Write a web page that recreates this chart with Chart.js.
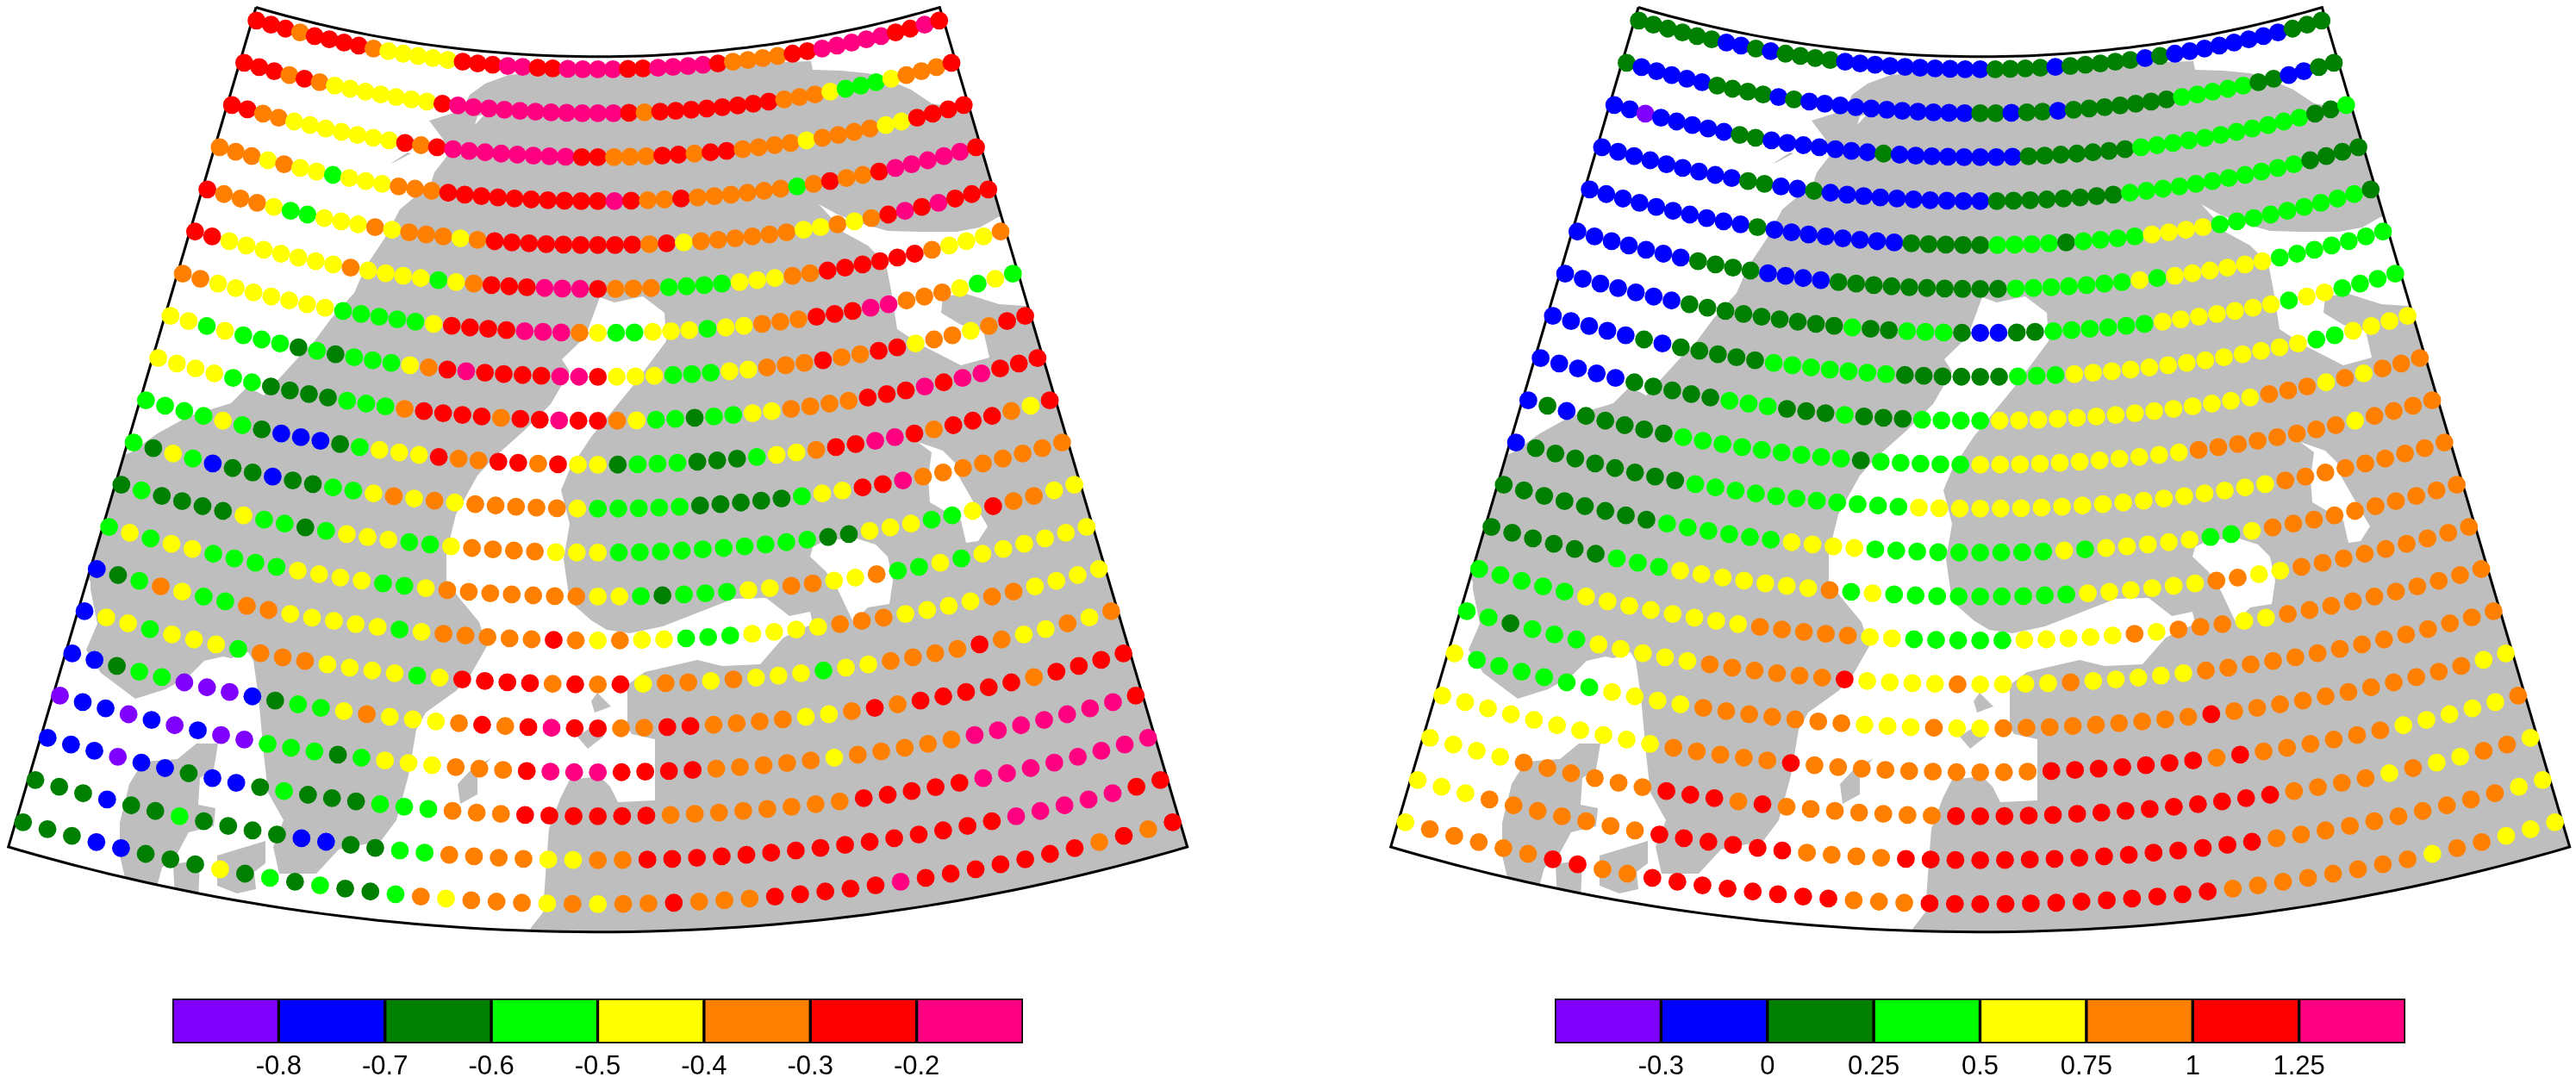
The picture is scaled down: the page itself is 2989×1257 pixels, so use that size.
<!DOCTYPE html>
<html lang="en">
<head>
  <meta charset="UTF-8">
  <title>Station maps</title>
  <script src="https://cdn.jsdelivr.net/npm/chart.js"></script>
  <style>
    body { margin: 0; background: #ffffff; overflow: hidden; }
    canvas { position: absolute; }
  </style>
</head>
<body>
<canvas id="mapLeft" width="1390" height="1090" style="left:0;top:0"></canvas>
<canvas id="mapRight" width="1390" height="1090" style="left:1604px;top:0"></canvas>
<canvas id="barLeft" width="1050" height="107" style="left:170px;top:1150px"></canvas>
<canvas id="barRight" width="1050" height="107" style="left:1774px;top:1150px"></canvas>
<script>
    // colour classes, lowest to highest
    const classKeys = ['P', 'B', 'D', 'G', 'Y', 'O', 'R', 'M'];
    const classColors = ['#8000ff', '#0000ff', '#008000', '#00ff00', '#ffff00', '#ff8000', '#ff0000', '#ff0080'];
    const leftTicks = ['-0.8', '-0.7', '-0.6', '-0.5', '-0.4', '-0.3', '-0.2'];
    const rightTicks = ['-0.3', '0', '0.25', '0.5', '0.75', '1', '1.25'];

    // one string per grid row, one letter per column (west half, east half)
    const leftRows = [
        'RRRORRRROYYYYYRRRMMRRMMM MRRMMMMROOOORRMMMMMRRMR',
        'RRROROYYYYYYYRMMMMMMMMMM MRORRRRRRRROOOYGGGYOOOR',
        'RROOYYYYYYYRORMMMMMMMMRR OOORRORROOOOYOOOOYYRRRR',
        'OOOYOYYGYYYOOORRRRRRRRRR MROOROOOOOOGOROORMMMMMR',
        'ROOOYGGYYYOYOOOYORRRRRRR RRORYOOOOOOYYOYORMRMRRR',
        'RRYYYYYYYOYYYYGYORRRMMMR OOOGGGGYYYOORRRRRROYYYO',
        'OOYYYYYYYGGGGGYRRRRMMMOY GGYYYGYYOOORRRMMOOOYGYG',
        'YYGYGGGDGDGGGYORMRRRRMMR YYYGGGYYOOOROORRYOOYORR',
        'YYYYGGDDDDGGGORRRRORRMRR OYGGDGGYYOOOORRRMRMMRRR',
        'GGGGYGDBBBDGYYYROORRORYY DGGGDDDGYYORRMMRORRROYR',
        'GDYGBDDBDDGGYOYOYOOOOOYG GGGGDDDDDGYYRRMOOOOOOOO',
        'DGDDDDYGGDGYYYGGYOOOOYYY GGGGGGGGGGDDYYYGGYROOYY',
        'GYGYYGGGGYYYYGGYOOOOOOOY YGDGGGYYOOYYOGGYGYYYYYY',
        'BDGOYGGOOYYYYYGYOOOOOROY OYYGGGYYYYOOOYYYYOOYYYY',
        'BYYGYYYGOOOYYYYGYRRRRORO RYOOYOYYYGYYOOOOROYYOYO',
        'BBDGGPPPBDGGYOYYYORORMRR OORROOOOYYORORRRRRORRRR',
        'PBBPBPBPPGGGDGYYYOOORMMM RRRROOOOOYOOOOOMMMMMMMR',
        'BBBPBBDBBDGDDDGGGOOORRRR RROOOOOOOORRRRRMMMMMMMM',
        'DDDBDDGDDDDBBDDGGOOOOYYO ORRRRRRRRRRRRRRRMMMMMRR',
        'DDDBBDDDYDGDGDDGOYOOOYOY OOROOORRRRRMRRRRRRROROR'
    ];
    const rightRows = [
        'DDDDDDBBDBDDDDBBBBBBBBBB DDDDBDDDDDBDBBBBBBBBDDD',
        'DBBBBBDDDDBDBBBBBBBBBBBD DBDDBDDDDDDDGGGGGDDBBDD',
        'BBPBBBBBDDBBBBBBBDBBBBBB BBDDDDDDDGGGGGGGGGGGDDG',
        'BBBBBBBBBDDBBDBBBBBBBBBB DDDDDDDDGGGGGGGGGGGDDDD',
        'BBBBBBBBBBDBBBBBBBBDDDDD GGGGDGGGGYYYYGGGGGGGGGD',
        'BBBBBBBDDDDBBBBDDDDDDDDD DGGGGGGGYGYYYYYYGGGGGGG',
        'BBBBBBBDDDDDDDDDGDDGGGDB BDDGGGGGGYYYYYYYGYYGGGG',
        'BBBBBDBDDDDDGGGGGGGDDDDD DGGGYYYYYYYYYYYYYGGYYYY',
        'BBBBBDDDDDGGGDDDGDDDGGGG YYYYYYYYYYYYYYOOOYOYOOO',
        'BDBDDDDDGGGGGGGGGDGGGGGY YYYYYYYYYYOOOOOOOOYOOOO',
        'BDDDDDDDDGGGGGGGGGGGYYYY YYYYYYYYYYYYYYOOOOOOOOO',
        'DDDDDDDDGGGGGGYYYYGGGGGG GGGYGYYYYYGGYOOOOOOOOOO',
        'DDDDDDGGGYYYYYYYOGYGGGGG GGGGYYYYYYOOYYOOOOOOOOO',
        'GGGGGYYYYYYYYOOOOOYYGGGG GYYYYYOYOOOYYOOOOOOOOOO',
        'GGDGGGYYYYYOOOOOORYYYYOY YYYOYYYYYOOOOOOOOOOOOOO',
        'YGGGGGGYYYYOOOOOOOYYYOYY OOOOOOOOOROOOOOOOOOOOYY',
        'YYYYYYYYYYOOOOOROOOOOOOO OORRRRRRROROOOOOOYYYYYO',
        'YYYYOOOOOORRROROOOOOOORR RRRRRRRRRRRROOOOYOYYOOY',
        'YYYOOOOOOORRRRRROOOORRRR RRRRRRRRRRROOOOOOOOOOYY',
        'YOOOOORROORRRRRRRROOORRR RRRRRRRRROOOOOOOOYOOYYY'
    ];

    // land outlines and inland water, in map units (same for both panels)
    const mainland = [[563,97],[590,87],[693,78],[941,71],[943,81],[976,82],[1007,85],[1034,94],[1057,104],[1081,120],
        [1125,128],[1150,130],[1200,245],[1158,252],[1137,264],[1110,269],[1065,269],[1030,268],[998,259],[972,249],[950,237],
        [964,252],[976,268],[1007,285],[1028,306],[1034,337],[1041,382],[1070,401],[1115,424],[1148,415],[1141,384],[1115,377],
        [1092,363],[1094,344],[1121,341],[1159,353],[1188,355],[1230,355],[1450,1000],[1400,1120],[600,1110],[616,1077],[630,1059],
        [634,1000],[637,962],[650,927],[661,905],[696,901],[708,913],[717,931],[760,929],[760,858],[733,852],[728,844],[728,795],
        [748,780],[809,766],[838,773],[882,771],[909,740],[943,724],[940,710],[916,715],[889,694],[851,695],[769,727],[731,735],
        [704,731],[686,720],[661,698],[654,649],[661,608],[651,569],[661,545],[686,507],[735,447],[773,396],[771,363],[746,344],
        [713,351],[696,345],[679,391],[652,417],[661,431],[639,469],[608,500],[572,532],[554,552],[529,597],[518,642],[518,674],
        [532,693],[556,722],[565,750],[545,785],[529,802],[494,827],[483,847],[474,900],[460,952],[442,976],[393,986],[367,1014],
        [324,1014],[317,983],[329,952],[311,920],[306,875],[300,809],[294,767],[288,757],[268,764],[259,762],[237,767],[219,785],
        [192,800],[157,811],[117,781],[100,754],[113,724],[105,684],[105,675],[95,663],[125,535],[152,525],[183,503],[219,483],
        [268,468],[286,450],[299,455],[306,459],[348,413],[364,397],[384,370],[411,340],[424,310],[446,277],[464,243],[500,213],
        [504,200],[522,177],[513,160],[498,140],[536,128],[545,110]];
    const islandBig = [[228,863],[253,863],[248,893],[232,903],[230,934],[250,938],[248,959],[219,966],[206,990],[188,1007],
        [179,1040],[150,1040],[139,993],[139,955],[150,910],[166,884],[206,881]];
    const islandFoot = [[201,1003],[232,998],[230,1045],[203,1045]];
    const islandSouth = [[252,993],[308,976],[308,1002],[295,1012],[297,1032],[275,1037],[252,1028]];
    const islandGulf = [[570,880],[547,893],[531,910],[534,933],[554,922],[554,896]];
    const islandDelta = [[670,855],[682,869],[700,855],[695,840],[680,848]];
    const islandCape = [[693,804],[686,814],[690,827],[709,820]];
    const fjordSliver = [[453,190],[473,177],[477,178],[458,188]];
    const lakeEast = [[994,625],[1016,632],[1030,646],[1036,674],[1032,701],[1007,705],[990,722],[972,684],[958,663],[940,646],[943,635],[958,627]];
    const lakeNorth = [[1065,513],[1094,523],[1108,537],[1112,552],[1128,580],[1146,611],[1135,628],[1121,630],[1115,604],[1079,583],[1077,555],[1081,525]];
    const notchNorth = [[551,145],[554,135],[563,132]];

    const landShapes = [mainland, islandBig, islandFoot, islandSouth, islandGulf, islandDelta, islandCape, fjordSliver];
    const waterShapes = [lakeEast, lakeNorth, notchNorth];

    // conic projection of the grid
    const apexX = 693.7, apexY = -1336.6;
    const toXY = (r, deg) => ({
        x: apexX + r * Math.sin(deg * Math.PI / 180),
        y: apexY + r * Math.cos(deg * Math.PI / 180)
    });
    const gridPoint = (col, row) => toXY(1417 + 51 * row, (col - 23) * 0.7057);

    function framePoints() {
        const pts = [];
        for (let a = -16.43; a <= 16.43; a += 0.5) pts.push(toXY(1402.4, a));
        pts.push(toXY(1402.4, 16.43));
        for (let a = 16.43; a >= -16.43; a -= 0.5) pts.push(toXY(2418.3, a));
        pts.push(toXY(2418.3, -16.43));
        pts.push(toXY(1402.4, -16.43));
        return pts;
    }

    const polygon = (shape, color, order) => ({
        type: 'scatter',
        data: shape.map(p => ({x: p[0], y: p[1]})),
        showLine: true,
        fill: 'shape',
        backgroundColor: color,
        borderColor: color,
        borderWidth: 0,
        pointRadius: 0,
        tension: 0,
        order: order
    });

    // land fill is clipped to the map sector, the frame and the dots are not
    const sectorClip = {
        id: 'sectorClip',
        beforeDraw(chart) {
            const {ctx, scales} = chart;
            ctx.save();
            ctx.beginPath();
            framePoints().forEach(p => ctx.lineTo(scales.x.getPixelForValue(p.x), scales.y.getPixelForValue(p.y)));
            ctx.closePath();
            ctx.clip();
        },
        beforeDatasetDraw(chart, args) {
            if (chart.data.datasets[args.index].label === 'frame') chart.ctx.restore();
        }
    };

    function mapChart(id, rows) {
        const points = [];
        const colors = [];
        rows.forEach((text, row) => {
            text.replace(' ', '').split('').forEach((key, col) => {
                points.push(gridPoint(col, row));
                colors.push(classColors[classKeys.indexOf(key)]);
            });
        });
        new Chart(document.getElementById(id), {
            type: 'scatter',
            data: {
                datasets: [
                    ...landShapes.map(s => polygon(s, '#bebebe', 4)),
                    ...waterShapes.map(s => polygon(s, '#ffffff', 3)),
                    {
                        label: 'frame',
                        data: framePoints(),
                        showLine: true,
                        borderColor: '#000000',
                        borderWidth: 3,
                        pointRadius: 0,
                        order: 2
                    },
                    {
                        label: 'stations',
                        data: points,
                        pointBackgroundColor: colors,
                        pointBorderWidth: 0,
                        pointRadius: 10.4,
                        order: 1
                    }
                ]
            },
            options: {
                responsive: false,
                animation: false,
                devicePixelRatio: 1,
                layout: {padding: 0, autoPadding: false},
                plugins: {legend: {display: false}, tooltip: {enabled: false}},
                scales: {
                    x: {display: false, min: 0, max: 1390},
                    y: {display: false, min: 0, max: 1090, reverse: true}
                }
            },
            plugins: [sectorClip]
        });
    }

    function colorBar(id, ticks) {
        new Chart(document.getElementById(id), {
            type: 'bar',
            data: {
                labels: [''],
                datasets: classColors.map((color, i) => ({
                    data: [[i, i + 1]],
                    backgroundColor: color,
                    borderColor: '#000000',
                    borderWidth: 2,
                    borderSkipped: false
                }))
            },
            options: {
                indexAxis: 'y',
                responsive: false,
                animation: false,
                devicePixelRatio: 1,
                layout: {padding: {left: 30, right: 33, top: 9, bottom: 0}},
                datasets: {bar: {grouped: false, barPercentage: 1, categoryPercentage: 1}},
                plugins: {legend: {display: false}, tooltip: {enabled: false}},
                scales: {
                    y: {display: false},
                    x: {
                        min: 0,
                        max: 8,
                        afterFit: axis => { axis.height = 46; },
                        grid: {display: false, drawTicks: false},
                        border: {display: false},
                        ticks: {
                            stepSize: 1,
                            autoSkip: false,
                            maxRotation: 0,
                            padding: 9,
                            color: '#000000',
                            font: {family: '"Liberation Sans"', size: 31},
                            callback: value => ticks[value - 1] || ''
                        }
                    }
                }
            }
        });
    }

    mapChart('mapLeft', leftRows);
    mapChart('mapRight', rightRows);
    colorBar('barLeft', leftTicks);
    colorBar('barRight', rightTicks);
</script>
</body>
</html>
